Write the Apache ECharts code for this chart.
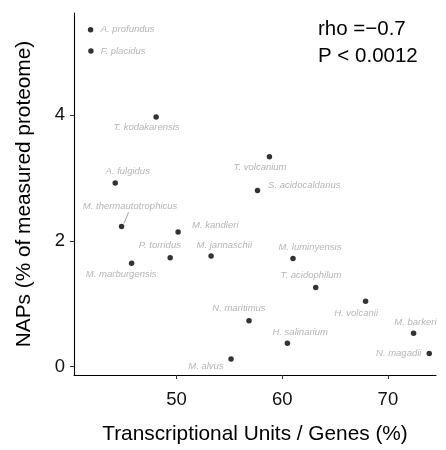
<!DOCTYPE html>
<html>
<head>
<meta charset="utf-8">
<script src="https://cdn.jsdelivr.net/npm/echarts@6/dist/echarts.min.js"></script>
<style>
html,body{margin:0;padding:0;background:#fff;}
#chart{width:446px;height:450px;}
</style>
</head>
<body>
<div id="chart"></div>
<script>
// ---- data ----
var species = ['A. profundus','F. placidus','T. kodakarensis','A. fulgidus','T. volcanium','S. acidocaldarius',
  'M. thermautotrophicus','M. kandleri','P. torridus','M. marburgensis','M. jannaschii','M. luminyensis',
  'T. acidophilum','H. volcanii','N. maritimus','H. salinarium','M. barkeri','N. magadii','M. alvus'];
var tuPerGene = [41.87,41.90,48.07,44.20,58.79,57.66,44.80,50.15,49.40,45.75,53.27,61.02,63.17,67.89,56.86,60.49,72.43,73.91,55.16];
var naps = [5.36,5.02,3.97,2.92,3.34,2.80,2.23,2.14,1.73,1.645,1.76,1.72,1.26,1.04,0.73,0.37,0.53,0.21,0.12];
var xTicks = [50,60,70];
var yTicks = [0,2,4];

// ---- label placement (style) ----
var labelOffsets = [[37,0],[32.3,0],[-9.6,10.7],[12.5,-11.6],[-9.4,11],[46.8,-5],
  [8.5,-19.7],[37.2,-6.7],[-10.3,-12.4],[-10.4,11.3],[13.2,-11],[17,-11.3],
  [-4.7,-11.7],[-9.5,11.7],[-10.1,-12],[12.8,-11],[1.8,-11.3],[-30.5,0],[-25.1,7.4]];

var chart = echarts.init(document.getElementById('chart'), null, {renderer:'canvas'});
var FONT = '"Liberation Sans", Arial, Helvetica, sans-serif';

var seriesData = species.map(function(n,i){
  return {name:n, value:[tuPerGene[i], naps[i]], label:{offset:labelOffsets[i]}};
});

var annotation = {
  type:'text', left:318, top:16,
  style:{text:'rho =\u22120.7\nP < 0.0012', fontFamily:FONT, fontSize:20.5, lineHeight:26.6, fill:'#000'}
};

chart.setOption({
  animation:false,
  backgroundColor:'#fff',
  grid:{left:74, right:10, top:13, bottom:64, containLabel:false},
  xAxis:{
    type:'value', min:40.3, max:74.55,
    name:'Transcriptional Units / Genes (%)', nameLocation:'middle', nameGap:49,
    nameTextStyle:{fontFamily:FONT, fontSize:20.8, color:'#000'},
    axisLine:{show:true, onZero:false, lineStyle:{color:'#000', width:1.1}},
    axisTick:{show:true, length:4, customValues:xTicks, lineStyle:{color:'#333'}},
    axisLabel:{customValues:xTicks, fontFamily:FONT, fontSize:18.5, color:'#111', margin:15},
    splitLine:{show:false}
  },
  yAxis:{
    type:'value', min:-0.134, max:5.626,
    name:'NAPs (% of measured proteome)', nameLocation:'middle', nameGap:39,
    nameTextStyle:{fontFamily:FONT, fontSize:20.8, color:'#000'},
    axisLine:{show:true, onZero:false, lineStyle:{color:'#000', width:1.1}},
    axisTick:{show:true, length:4, customValues:yTicks, lineStyle:{color:'#333'}},
    axisLabel:{customValues:yTicks, fontFamily:FONT, fontSize:18.5, color:'#111', margin:9, padding:[0,0,10,0]},
    splitLine:{show:false}
  },
  series:[{
    type:'scatter',
    symbol:'circle', symbolSize:5.5,
    itemStyle:{color:'#000'},
    data:seriesData,
    label:{show:true, position:'inside', formatter:'{b}', align:'center', verticalAlign:'middle',
      fontFamily:FONT, fontStyle:'italic', fontSize:9.5, color:'#a3a3a3'},
    emphasis:{disabled:true}
  }],
  graphic:[annotation]
});

// connector segment for the one repelled label
var idx = species.indexOf('M. thermautotrophicus');
var p = chart.convertToPixel({gridIndex:0}, [tuPerGene[idx], naps[idx]]);
chart.setOption({graphic:[annotation,{
  type:'line', shape:{x1:p[0]+2.3, y1:p[1]-3, x2:p[0]+7, y2:p[1]-14},
  style:{stroke:'#a3a3a3', lineWidth:1}
}]});
</script>
</body>
</html>
